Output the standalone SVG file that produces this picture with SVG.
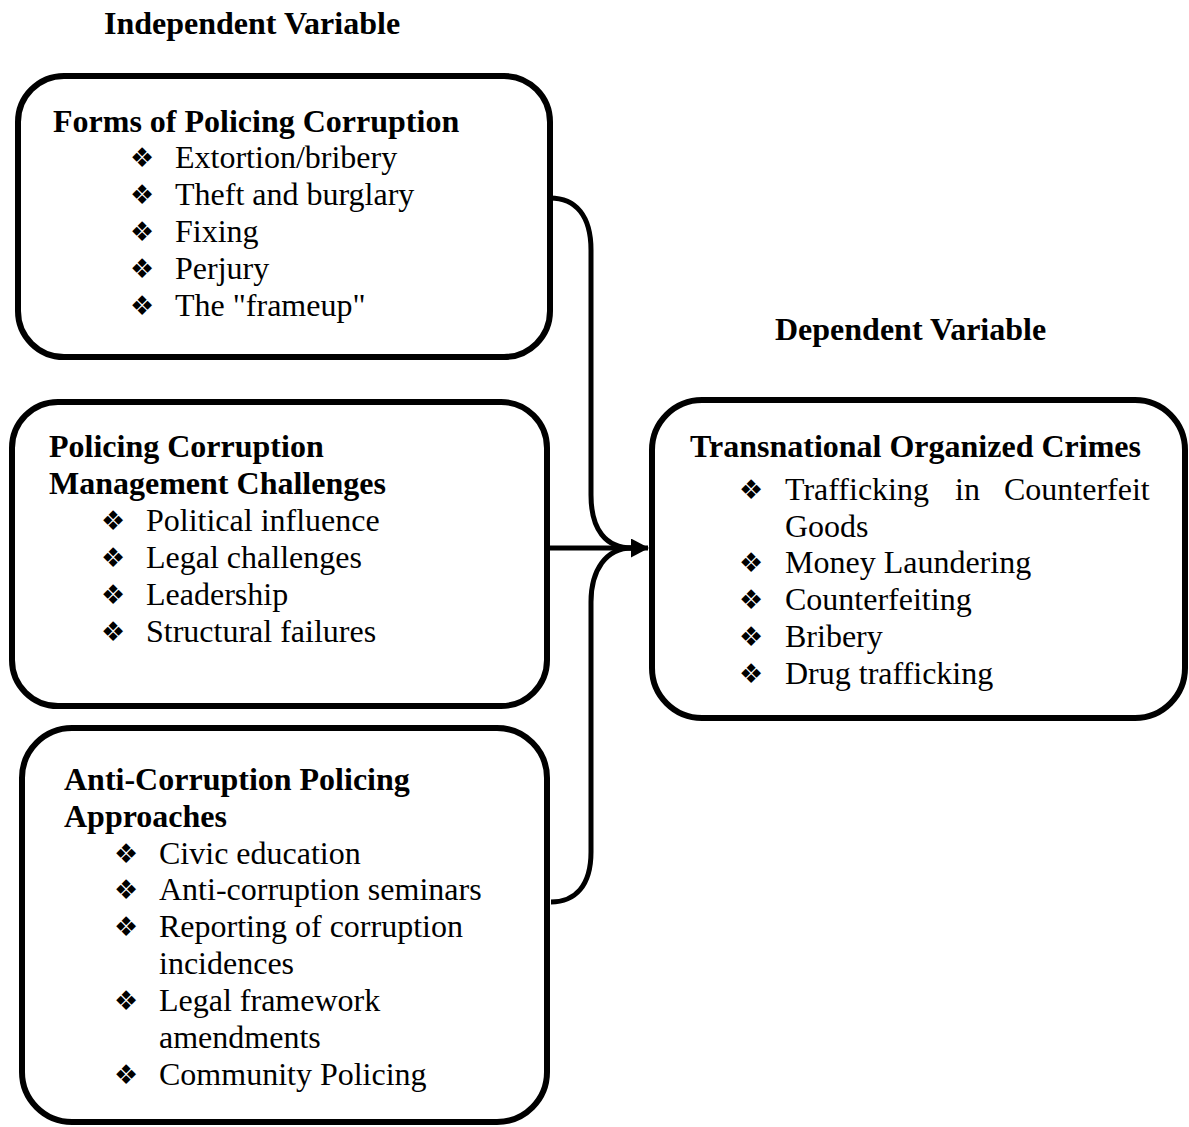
<svg xmlns="http://www.w3.org/2000/svg" width="1189" height="1127" viewBox="0 0 1189 1127">
<style>
.box{fill:#fff;stroke:#000;stroke-width:6}
.t{font-family:"Liberation Serif","Times New Roman",serif;font-size:32px;fill:#000}
.b{font-weight:bold}
.bl{font-family:"DejaVu Sans",sans-serif;font-size:27px;text-anchor:middle;fill:#000}
.con{fill:none;stroke:#000;stroke-width:5}
</style>
<defs>
<marker id="ah" markerWidth="18" markerHeight="19" refX="17" refY="9.5" orient="auto" markerUnits="userSpaceOnUse">
<path d="M0,0 L18,9.5 L0,19 Z" fill="#000"/>
</marker>
</defs>
<rect width="1189" height="1127" fill="#fff"/>
<text class="t b" x="104" y="34">Independent Variable</text>
<text class="t b" x="775" y="340">Dependent Variable</text>

<g id="connectors">
<path class="con" d="M550,198 C576,198 591,216 591,250 L591,495 C591,530 606,548 632,548"/>
<path class="con" d="M551,902 C575,902 591,886 591,852 L591,602 C591,570 606,548 632,548"/>
<path class="con" d="M543,548 L648,548" marker-end="url(#ah)"/>
</g>

<g id="forms">
<rect class="box" x="18" y="76" width="532" height="281" rx="46"/>
<text class="t b" x="53" y="132">Forms of Policing Corruption</text>
<text class="bl" x="142" y="167">❖</text><text class="t" x="175" y="168">Extortion/bribery</text>
<text class="bl" x="142" y="204">❖</text><text class="t" x="175" y="205">Theft and burglary</text>
<text class="bl" x="142" y="241">❖</text><text class="t" x="175" y="242">Fixing</text>
<text class="bl" x="142" y="278">❖</text><text class="t" x="175" y="279">Perjury</text>
<text class="bl" x="142" y="315">❖</text><text class="t" x="175" y="316">The "frameup"</text>
</g>

<g id="challenges">
<rect class="box" x="12" y="402" width="535" height="304" rx="46"/>
<text class="t b" x="49" y="457">Policing Corruption</text>
<text class="t b" x="49" y="494">Management Challenges</text>
<text class="bl" x="113" y="530">❖</text><text class="t" x="146" y="531">Political influence</text>
<text class="bl" x="113" y="567">❖</text><text class="t" x="146" y="568">Legal challenges</text>
<text class="bl" x="113" y="604">❖</text><text class="t" x="146" y="605">Leadership</text>
<text class="bl" x="113" y="641">❖</text><text class="t" x="146" y="642">Structural failures</text>
</g>

<g id="approaches">
<rect class="box" x="22" y="728" width="525" height="394" rx="50"/>
<text class="t b" x="64" y="790">Anti-Corruption Policing</text>
<text class="t b" x="64" y="827">Approaches</text>
<text class="bl" x="126" y="863">❖</text><text class="t" x="159" y="864">Civic education</text>
<text class="bl" x="126" y="899">❖</text><text class="t" x="159" y="900">Anti-corruption seminars</text>
<text class="bl" x="126" y="936">❖</text><text class="t" x="159" y="937">Reporting of corruption</text>
<text class="t" x="159" y="974">incidences</text>
<text class="bl" x="126" y="1010">❖</text><text class="t" x="159" y="1011">Legal framework</text>
<text class="t" x="159" y="1048">amendments</text>
<text class="bl" x="126" y="1084">❖</text><text class="t" x="159" y="1085">Community Policing</text>
</g>

<g id="crimes">
<rect class="box" x="652" y="400" width="533" height="318" rx="50"/>
<text class="t b" x="690" y="457">Transnational Organized Crimes</text>
<text class="bl" x="751" y="499">❖</text><text class="t" y="500"><tspan x="785">Trafficking</tspan><tspan x="955">in</tspan><tspan x="1004">Counterfeit</tspan></text>
<text class="t" x="785" y="537">Goods</text>
<text class="bl" x="751" y="572">❖</text><text class="t" x="785" y="573">Money Laundering</text>
<text class="bl" x="751" y="609">❖</text><text class="t" x="785" y="610">Counterfeiting</text>
<text class="bl" x="751" y="646">❖</text><text class="t" x="785" y="647">Bribery</text>
<text class="bl" x="751" y="683">❖</text><text class="t" x="785" y="684">Drug trafficking</text>
</g>
</svg>
